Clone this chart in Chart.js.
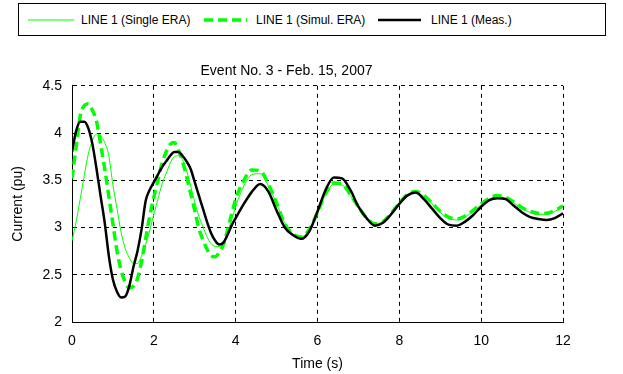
<!DOCTYPE html>
<html>
<head>
<meta charset="utf-8">
<script src="https://cdn.jsdelivr.net/npm/chart.js@4"></script>
<style>
  html, body { margin: 0; padding: 0; background: #fff; }
  #wrap { position: relative; width: 623px; height: 374px; font-family: "Liberation Sans", Arial, sans-serif; }
  #legend { position: absolute; left: 18px; top: 3px; width: 588px; height: 33px; border: 1px solid #000; background: #fff; box-sizing: border-box; z-index: 2; }
  #legend .item { position: absolute; top: 0; height: 30px; line-height: 30px; font-size: 12px; color: #000; white-space: nowrap; }
  #legend svg { position: absolute; top: 0; }
</style>
</head>
<body>
<div id="wrap">
  <div id="legend"></div>
  <canvas id="chart" width="623" height="374"></canvas>
</div>
<script>
const times = [
  0.0, 0.1, 0.2, 0.3, 0.4, 0.5, 0.6, 0.7, 0.8, 0.9,
  1.0, 1.1, 1.2, 1.3, 1.4, 1.5, 1.6, 1.7, 1.8, 1.9,
  2.0, 2.1, 2.2, 2.3, 2.4, 2.5, 2.6, 2.7, 2.8, 2.9,
  3.0, 3.1, 3.2, 3.3, 3.4, 3.5, 3.6, 3.7, 3.8, 3.9,
  4.0, 4.2, 4.4, 4.6, 4.8, 5.0, 5.2, 5.4, 5.6, 5.8,
  6.0, 6.2, 6.4, 6.6, 6.8, 7.0, 7.2, 7.4, 7.6, 7.8,
  8.0, 8.2, 8.4, 8.6, 8.8, 9.0, 9.2, 9.4, 9.6, 9.8,
  10.0, 10.2, 10.4, 10.6, 10.8, 11.0, 11.2, 11.4, 11.6, 11.8,
  12.0
];

const singleEra = [
  2.86, 3.06, 3.30, 3.55, 3.78, 3.92, 3.99, 3.97, 3.90, 3.76,
  3.45, 3.20, 2.95, 2.78, 2.68, 2.62, 2.62, 2.70, 2.82, 2.97,
  3.14, 3.30, 3.46, 3.57, 3.68, 3.75, 3.76, 3.72, 3.60, 3.44,
  3.27, 3.12, 3.01, 2.90, 2.83, 2.80, 2.80, 2.84, 2.95, 3.08,
  3.22, 3.44, 3.56, 3.57, 3.44, 3.25, 3.05, 2.93, 2.90, 2.98,
  3.15, 3.35, 3.46, 3.45, 3.34, 3.21, 3.10, 3.04, 3.06, 3.15,
  3.26, 3.34, 3.37, 3.33, 3.25, 3.16, 3.10, 3.08, 3.11, 3.17,
  3.24, 3.30, 3.33, 3.31, 3.26, 3.20, 3.16, 3.14, 3.14, 3.17,
  3.22
];

const simulEra = [
  3.52, 3.85, 4.18, 4.29, 4.31, 4.24, 4.12, 3.88, 3.62, 3.33,
  3.04, 2.75, 2.55, 2.42, 2.36, 2.38, 2.46, 2.64, 2.88, 3.12,
  3.32, 3.50, 3.68, 3.80, 3.88, 3.90, 3.82, 3.70, 3.54, 3.36,
  3.18, 2.99, 2.87, 2.77, 2.70, 2.69, 2.74, 2.82, 2.97, 3.14,
  3.30, 3.50, 3.61, 3.60, 3.46, 3.26, 3.04, 2.93, 2.90, 2.98,
  3.16, 3.36, 3.47, 3.46, 3.35, 3.22, 3.10, 3.04, 3.06, 3.15,
  3.26, 3.35, 3.38, 3.34, 3.26, 3.17, 3.11, 3.09, 3.12, 3.18,
  3.25, 3.31, 3.34, 3.32, 3.27, 3.21, 3.17, 3.15, 3.15, 3.18,
  3.23
];

const measured = [
  3.80, 4.02, 4.12, 4.12, 4.05, 3.88, 3.62, 3.33, 3.05, 2.70,
  2.45, 2.32, 2.26, 2.27, 2.38, 2.58, 2.75, 2.98, 3.28, 3.40,
  3.48, 3.56, 3.64, 3.70, 3.76, 3.80, 3.80, 3.76, 3.70, 3.62,
  3.48, 3.34, 3.20, 3.06, 2.94, 2.86, 2.82, 2.84, 2.92, 3.02,
  3.10, 3.25, 3.38, 3.46, 3.38, 3.18, 3.00, 2.92, 2.88, 2.96,
  3.17, 3.40, 3.53, 3.52, 3.40, 3.22, 3.10, 3.02, 3.05, 3.14,
  3.25, 3.34, 3.37, 3.30, 3.20, 3.10, 3.03, 3.02, 3.06, 3.13,
  3.22, 3.29, 3.31, 3.30, 3.23, 3.16, 3.11, 3.09, 3.08, 3.10,
  3.15
];

const xTicks = [0, 2, 4, 6, 8, 10, 12];
const yTicks = [2, 2.5, 3, 3.5, 4, 4.5];

const seriesNames = ['LINE 1 (Single ERA)', 'LINE 1 (Simul. ERA)', 'LINE 1 (Meas.)'];

const GREEN = '#00ff00';
const FONT = '"Liberation Sans", Arial, sans-serif';

function toPoints(values) {
    return values.map((v, i) => ({ x: times[i], y: v }));
}

// legend drawn as html, box like the matlab one
const legendSpec = [
    { x1: 9, x2: 55, textX: 62, color: GREEN, width: 1, dash: '' },
    { x1: 185, x2: 228, textX: 237, color: GREEN, width: 3.5, dash: '9,5' },
    { x1: 359, x2: 402, textX: 412, color: '#000', width: 2.5, dash: '' }
];
const legendEl = document.getElementById('legend');
legendSpec.forEach((s, i) => {
    const svg = document.createElementNS('http://www.w3.org/2000/svg', 'svg');
    svg.setAttribute('width', 600);
    svg.setAttribute('height', 30);
    svg.style.left = '0px';
    const line = document.createElementNS('http://www.w3.org/2000/svg', 'line');
    line.setAttribute('x1', s.x1);
    line.setAttribute('x2', s.x2);
    line.setAttribute('y1', 16);
    line.setAttribute('y2', 16);
    line.setAttribute('stroke', s.color);
    line.setAttribute('stroke-width', s.width);
    if (s.dash) line.setAttribute('stroke-dasharray', s.dash);
    svg.appendChild(line);
    legendEl.appendChild(svg);
    const span = document.createElement('span');
    span.className = 'item';
    span.style.left = s.textX + 'px';
    span.style.top = '1px';
    span.textContent = seriesNames[i];
    legendEl.appendChild(span);
});

new Chart(document.getElementById('chart'), {
    type: 'line',
    data: {
        datasets: [
            {
                label: seriesNames[0],
                data: toPoints(singleEra),
                borderColor: GREEN,
                borderWidth: 1,
                order: 3
            },
            {
                label: seriesNames[1],
                data: toPoints(simulEra),
                borderColor: GREEN,
                borderWidth: 3.5,
                borderDash: [9, 5],
                order: 2
            },
            {
                label: seriesNames[2],
                data: toPoints(measured),
                borderColor: '#000',
                borderWidth: 2.5,
                order: 1
            }
        ]
    },
    options: {
        responsive: false,
        animation: false,
        events: [],
        elements: {
            point: { radius: 0 },
            line: { tension: 0.4, fill: false, cubicInterpolationMode: 'monotone' }
        },
        layout: { padding: { top: 63, left: 10, right: 60, bottom: 0 } },
        plugins: {
            legend: { display: false },
            tooltip: { enabled: false },
            title: {
                display: true,
                text: 'Event No. 3 - Feb. 15, 2007',
                color: '#000',
                font: { family: FONT, size: 14, weight: 'normal' },
                padding: { top: 0, bottom: 6 }
            }
        },
        scales: {
            x: {
                type: 'linear',
                min: 0,
                max: 12,
                afterBuildTicks: (s) => { s.ticks = xTicks.map(v => ({ value: v })); },
                afterFit: (s) => { s.height = 52; },
                ticks: { color: '#000', font: { family: FONT, size: 14 }, padding: 11, maxRotation: 0 },
                grid: { color: '#000', lineWidth: 1, drawTicks: false },
                border: { display: true, color: '#000', width: 1, dash: [4, 4] },
                title: {
                    display: true,
                    text: 'Time (s)',
                    color: '#000',
                    font: { family: FONT, size: 14 },
                    padding: { top: 2, bottom: 1 }
                }
            },
            y: {
                min: 2,
                max: 4.5,
                afterBuildTicks: (s) => { s.ticks = yTicks.map(v => ({ value: v })); },
                afterFit: (s) => { s.width = 62; },
                ticks: {
                    color: '#000',
                    font: { family: FONT, size: 14 },
                    padding: 10,
                    callback: (v) => String(v)
                },
                grid: { color: '#000', lineWidth: 1, drawTicks: false },
                border: { display: true, color: '#000', width: 1, dash: [4, 4] },
                title: {
                    display: true,
                    text: 'Current (pu)',
                    color: '#000',
                    font: { family: FONT, size: 14 },
                    padding: { top: 0, bottom: 4 }
                }
            }
        }
    }
});
</script>
</body>
</html>
